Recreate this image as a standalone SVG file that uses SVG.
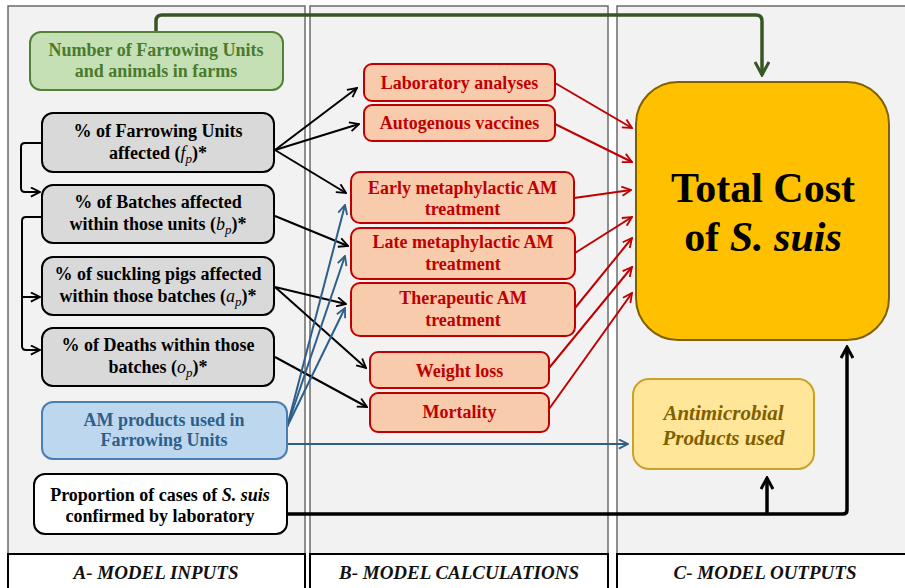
<svg xmlns="http://www.w3.org/2000/svg" width="905" height="588" viewBox="0 0 905 588">
<style>
.panel{fill:#f2f2f2;stroke:#6b6b6b;stroke-width:1.5}
.foot{fill:#ffffff;stroke:#000;stroke-width:2}
text{font-family:'Liberation Serif',serif}
.ft{font-weight:bold;font-style:italic;font-size:19px;fill:#111;text-anchor:middle}
.t{font-weight:bold;font-size:18px;text-anchor:middle}
.big{font-size:42px}
.mid{font-size:21px;font-style:italic}
.m{font-weight:normal;font-style:italic}
.gray rect{fill:#d9d9d9;stroke:#000;stroke-width:2}
.gray text{fill:#000}
.red rect{fill:#f8cbad;stroke:#c00000;stroke-width:2}
.red text{fill:#c00000}
.blk{stroke:#000;stroke-width:2;fill:none}
.rd{stroke:#c00000;stroke-width:2;fill:none}
.bl{stroke:#2e5f8a;stroke-width:2;fill:none}
</style>
<defs>
<marker id="ak" viewBox="0 0 12 12" refX="11" refY="6" markerWidth="11" markerHeight="11" markerUnits="userSpaceOnUse" orient="auto"><path d="M1,1 L11,6 L1,11" fill="none" stroke="#000" stroke-width="2"/></marker>
<marker id="ar" viewBox="0 0 12 12" refX="11" refY="6" markerWidth="11" markerHeight="11" markerUnits="userSpaceOnUse" orient="auto"><path d="M1,1 L11,6 L1,11" fill="none" stroke="#c00000" stroke-width="2"/></marker>
<marker id="ab" viewBox="0 0 12 12" refX="11" refY="6" markerWidth="11" markerHeight="11" markerUnits="userSpaceOnUse" orient="auto"><path d="M1,1 L11,6 L1,11" fill="none" stroke="#2e5f8a" stroke-width="2"/></marker>
<marker id="akt" viewBox="0 0 14 14" refX="12" refY="7" markerWidth="14" markerHeight="14" markerUnits="userSpaceOnUse" orient="auto"><path d="M1,1 L12,7 L1,13" fill="none" stroke="#000" stroke-width="3"/></marker>
<marker id="ag" viewBox="0 0 16 16" refX="14" refY="8" markerWidth="16" markerHeight="16" markerUnits="userSpaceOnUse" orient="auto"><path d="M1,1 L14,8 L1,15" fill="none" stroke="#375623" stroke-width="3"/></marker>
</defs>
<rect width="905" height="588" fill="#ffffff"/>
<g id="panels">
<rect class="panel" x="8" y="6" width="297" height="590"/>
<rect class="panel" x="310" y="6" width="298" height="590"/>
<rect class="panel" x="617" y="6" width="300" height="590"/>
<rect class="foot" x="8" y="554" width="297" height="40"/>
<rect class="foot" x="310" y="554" width="298" height="40"/>
<rect class="foot" x="617" y="554" width="300" height="40"/>
<text class="ft" x="156" y="579">A- MODEL INPUTS</text>
<text class="ft" x="459" y="579">B- MODEL CALCULATIONS</text>
<text class="ft" x="765" y="579">C- MODEL OUTPUTS</text>
</g>
<g id="connectors">
<path d="M156,32 V21 Q156,15 162,15 H756 Q762,15 762,21 V75" fill="none" stroke="#375623" stroke-width="3.5" marker-end="url(#ag)"/>
<path class="blk" d="M42,143 H25 Q21,143 21,147 V188 Q21,192 25,192 H40" marker-end="url(#ak)"/>
<path class="blk" d="M42,217 H26 Q22,217 22,221 V346 Q22,350 26,350 H40" marker-end="url(#ak)"/>
<path class="blk" d="M22,297 H40" marker-end="url(#ak)"/>
<path class="blk" d="M275,150 L357,88" marker-end="url(#ak)"/>
<path class="blk" d="M275,150 L359,124" marker-end="url(#ak)"/>
<path class="blk" d="M275,150 L346,193" marker-end="url(#ak)"/>
<path class="blk" d="M275,216 L348,246" marker-end="url(#ak)"/>
<path class="blk" d="M275,287 L346,304" marker-end="url(#ak)"/>
<path class="blk" d="M275,287 L366,368" marker-end="url(#ak)"/>
<path class="blk" d="M275,357 L367,407" marker-end="url(#ak)"/>
<path class="bl" d="M287,427 L345,205" marker-end="url(#ab)"/>
<path class="bl" d="M287,427 L345,256" marker-end="url(#ab)"/>
<path class="bl" d="M287,427 L345,308" marker-end="url(#ab)"/>
<path class="bl" d="M287,444 L628,444" marker-end="url(#ab)"/>
<path class="rd" d="M555,83 L632,128" marker-end="url(#ar)"/>
<path class="rd" d="M555,124 L632,162" marker-end="url(#ar)"/>
<path class="rd" d="M574,198 L631,190" marker-end="url(#ar)"/>
<path class="rd" d="M575,253 L632,217" marker-end="url(#ar)"/>
<path class="rd" d="M575,308 L632,238" marker-end="url(#ar)"/>
<path class="rd" d="M549,368 L632,267" marker-end="url(#ar)"/>
<path class="rd" d="M549,409 L632,293" marker-end="url(#ar)"/>
<path d="M287,514 H843 Q847,514 847,510 V347" fill="none" stroke="#000" stroke-width="3.5" marker-end="url(#akt)"/>
<path d="M767,514 V478" fill="none" stroke="#000" stroke-width="3.5" marker-end="url(#akt)"/>
</g>
<g id="n-number">
<rect x="30" y="32" width="253" height="58" rx="11" fill="#c5e0b4" stroke="#538135" stroke-width="2"/>
<text class="t" x="156" y="56" fill="#4a7a2c">Number of Farrowing Units</text>
<text class="t" x="156" y="77" fill="#4a7a2c">and animals in farms</text>
</g>
<g id="n-fp" class="gray">
<rect x="42" y="113" width="232" height="59" rx="11"/>
<text class="t" x="158" y="137">% of Farrowing Units</text>
<text class="t" x="158" y="159">affected (<tspan class="m">f</tspan><tspan class="m" font-size="13" dy="4">p</tspan><tspan dy="-4">)*</tspan></text>
</g>
<g id="n-bp" class="gray">
<rect x="42" y="185" width="232" height="58" rx="11"/>
<text class="t" x="158" y="208">% of Batches affected</text>
<text class="t" x="158" y="230">within those units (<tspan class="m">b</tspan><tspan class="m" font-size="13" dy="4">p</tspan><tspan dy="-4">)*</tspan></text>
</g>
<g id="n-ap" class="gray">
<rect x="42" y="257" width="232" height="58" rx="11"/>
<text class="t" x="158" y="280">% of suckling pigs affected</text>
<text class="t" x="158" y="302">within those batches (<tspan class="m">a</tspan><tspan class="m" font-size="13" dy="4">p</tspan><tspan dy="-4">)*</tspan></text>
</g>
<g id="n-op" class="gray">
<rect x="42" y="328" width="232" height="58" rx="11"/>
<text class="t" x="158" y="351">% of Deaths within those</text>
<text class="t" x="158" y="373">batches (<tspan class="m">o</tspan><tspan class="m" font-size="13" dy="4">p</tspan><tspan dy="-4">)*</tspan></text>
</g>
<g id="n-am">
<rect x="42" y="402" width="245" height="57" rx="11" fill="#bdd7ee" stroke="#4a7eb0" stroke-width="2"/>
<text class="t" x="164" y="426" fill="#2e5f8a">AM products used in</text>
<text class="t" x="164" y="446" fill="#2e5f8a">Farrowing Units</text>
</g>
<g id="n-prop">
<rect x="34" y="474" width="253" height="60" rx="11" fill="#ffffff" stroke="#000" stroke-width="2"/>
<text class="t" x="160" y="501" fill="#000">Proportion of cases of <tspan font-style="italic">S. suis</tspan></text>
<text class="t" x="160" y="522" fill="#000">confirmed by laboratory</text>
</g>
<g id="n-lab" class="red">
<rect x="364" y="64" width="191" height="37" rx="8"/>
<text class="t" x="459.5" y="89">Laboratory analyses</text>
</g>
<g id="n-vac" class="red">
<rect x="364" y="105" width="191" height="36" rx="8"/>
<text class="t" x="459.5" y="129">Autogenous vaccines</text>
</g>
<g id="n-early" class="red">
<rect x="351" y="172" width="223" height="51" rx="9"/>
<text class="t" x="462.5" y="194">Early metaphylactic AM</text>
<text class="t" x="462.5" y="215">treatment</text>
</g>
<g id="n-late" class="red">
<rect x="351" y="228" width="224" height="51" rx="9"/>
<text class="t" x="463" y="248">Late metaphylactic AM</text>
<text class="t" x="463" y="270">treatment</text>
</g>
<g id="n-ther" class="red">
<rect x="351" y="283" width="224" height="53" rx="9"/>
<text class="t" x="463" y="304">Therapeutic AM</text>
<text class="t" x="463" y="326">treatment</text>
</g>
<g id="n-weight" class="red">
<rect x="370" y="352" width="179" height="36" rx="8"/>
<text class="t" x="459.5" y="377">Weight loss</text>
</g>
<g id="n-mort" class="red">
<rect x="370" y="393" width="179" height="39" rx="8"/>
<text class="t" x="459.5" y="418">Mortality</text>
</g>
<g id="n-total">
<rect x="636" y="82" width="253" height="258" rx="42" fill="#ffc000" stroke="#7f6000" stroke-width="2"/>
<text class="t big" x="763" y="202" fill="#000">Total Cost</text>
<text class="t big" x="763" y="251" fill="#000">of <tspan font-style="italic">S. suis</tspan></text>
</g>
<g id="n-amout">
<rect x="633" y="379" width="181" height="90" rx="16" fill="#ffe699" stroke="#c9a227" stroke-width="2"/>
<text class="t mid" x="723.5" y="420" fill="#7f6000">Antimicrobial</text>
<text class="t mid" x="723.5" y="445" fill="#7f6000">Products used</text>
</g>
</svg>
